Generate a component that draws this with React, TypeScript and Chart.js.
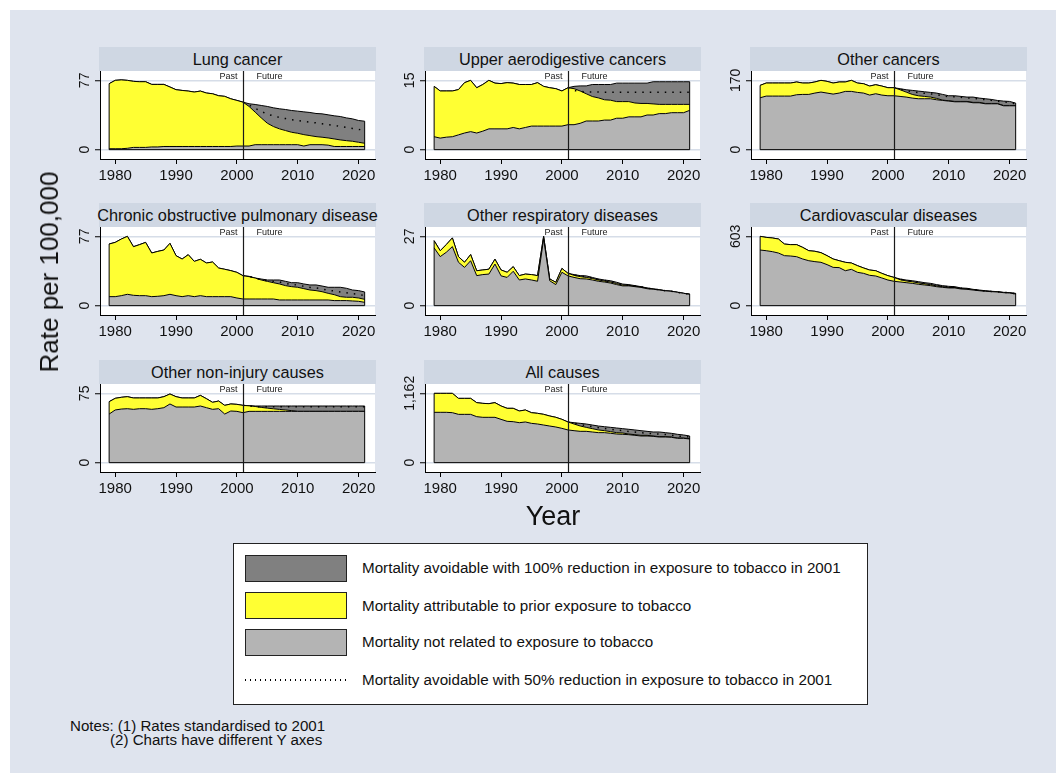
import React, { useEffect, useRef } from 'react';
import { Chart, registerables } from 'chart.js';

Chart.register(...registerables);

// ---------- data ----------
const years = [1979, 1980, 1981, 1982, 1983, 1984, 1985, 1986, 1987, 1988, 1989, 1990, 1991, 1992, 1993, 1994, 1995, 1996, 1997, 1998, 1999, 2000, 2001, 2002, 2003, 2004, 2005, 2006, 2007, 2008, 2009, 2010, 2011, 2012, 2013, 2014, 2015, 2016, 2017, 2018, 2019, 2020, 2021];
const futureYears = [2001, 2002, 2003, 2004, 2005, 2006, 2007, 2008, 2009, 2010, 2011, 2012, 2013, 2014, 2015, 2016, 2017, 2018, 2019, 2020, 2021];
const projectionStart = 2001;
const xTickYears = [1980, 1990, 2000, 2010, 2020];

// Lung cancer
const lungBase = [1.0, 1.0, 1.0, 1.5, 2.5, 2.5, 2.5, 3.0, 3.0, 3.5, 3.5, 3.5, 3.5, 3.5, 3.5, 3.5, 3.5, 3.5, 3.5, 3.5, 3.5, 4.0, 4.0, 4.0, 5.5, 5.5, 5.5, 5.5, 5.5, 5.5, 5.5, 5.5, 4.0, 5.5, 5.5, 5.5, 5.0, 3.5, 3.5, 3.5, 3.5, 3.5, 3.5];
const lungPrior = [73.3, 77.0, 77.5, 77.0, 75.9, 75.5, 75.5, 72.5, 72.5, 72.5, 69.6, 66.6, 65.8, 65.1, 64.0, 65.1, 62.9, 62.1, 59.9, 59.2, 56.5, 54.7, 52.8, 48.0, 41.7, 35.3, 29.4, 25.7, 23.1, 21.2, 19.3, 18.2, 16.7, 15.6, 14.5, 13.8, 13.0, 11.9, 10.8, 10.0, 9.3, 8.2, 7.1];
const lungProjected = [52.8, 51.0, 50.2, 49.1, 48.0, 46.5, 45.4, 44.6, 43.5, 42.8, 42.0, 41.3, 40.2, 39.8, 38.7, 37.6, 36.8, 35.3, 34.2, 32.4, 31.6];
const lungHalf = [52.8, 49.5, 46.0, 42.5, 39.5, 37.5, 35.8, 34.5, 33.3, 32.4, 31.5, 30.6, 29.8, 28.8, 27.8, 26.8, 25.8, 24.6, 23.6, 22.5, 21.6];

// Upper aerodigestive cancers
const uadBase = [2.8, 2.5, 2.7, 2.8, 3.2, 3.6, 3.9, 3.6, 4.0, 4.5, 4.5, 4.5, 4.5, 4.8, 4.5, 4.8, 5.1, 5.1, 5.1, 5.1, 5.1, 5.1, 5.4, 5.4, 5.7, 6.2, 6.2, 6.2, 6.4, 6.4, 6.8, 6.8, 7.1, 7.1, 7.1, 7.5, 7.5, 7.8, 7.8, 8.0, 8.0, 8.0, 8.5];
const uadPrior = [13.7, 12.7, 12.7, 12.7, 13.0, 14.5, 15.0, 13.4, 14.1, 15.0, 14.4, 14.3, 14.5, 14.4, 14.1, 14.1, 14.1, 14.5, 13.7, 13.4, 13.2, 12.7, 13.4, 13.2, 12.7, 12.1, 11.5, 11.2, 10.8, 10.7, 10.4, 10.4, 10.4, 10.1, 10.0, 10.0, 9.9, 9.8, 9.8, 9.8, 9.8, 9.8, 9.8];
const uadProjected = [13.4, 13.7, 13.8, 13.8, 14.1, 14.1, 14.1, 14.1, 14.4, 14.4, 14.4, 14.4, 14.4, 14.4, 14.7, 14.7, 14.7, 14.7, 14.7, 14.7, 14.7];
const uadHalf = [13.4, 12.8, 12.6, 12.5, 12.5, 12.5, 12.4, 12.4, 12.4, 12.4, 12.4, 12.4, 12.4, 12.4, 12.4, 12.4, 12.4, 12.4, 12.4, 12.4, 12.4];

// Other cancers
const ocBase = [127.3, 131.4, 131.4, 131.4, 131.4, 131.4, 134.7, 135.5, 135.5, 138.8, 141.3, 138.8, 136.3, 138.8, 142.9, 142.9, 140.4, 138.8, 133.9, 137.2, 133.9, 132.2, 132.2, 130.6, 129.0, 126.5, 124.9, 124.9, 124.9, 122.4, 120.7, 119.1, 117.4, 117.4, 117.4, 115.0, 115.0, 112.5, 112.5, 112.5, 107.6, 107.6, 107.6];
const ocPrior = [157.7, 163.4, 163.4, 163.4, 163.4, 163.4, 166.0, 163.4, 163.4, 166.0, 170.0, 167.5, 163.4, 166.0, 166.0, 170.0, 163.4, 161.8, 156.0, 159.3, 156.0, 152.0, 152.0, 147.0, 141.3, 135.5, 132.2, 130.6, 129.0, 125.7, 121.5, 120.0, 118.3, 118.3, 118.3, 116.0, 116.0, 113.3, 113.3, 113.3, 108.4, 108.4, 108.4];
const ocProjected = [152.0, 149.5, 147.0, 145.4, 143.7, 142.0, 140.4, 138.8, 135.5, 132.2, 132.2, 130.6, 129.0, 129.0, 126.5, 124.9, 123.2, 120.7, 119.1, 118.3, 114.2];
const ocHalf = [152.0, 148.5, 145.0, 142.5, 140.0, 138.3, 136.8, 135.0, 132.5, 130.0, 129.8, 128.3, 126.8, 126.5, 124.2, 122.6, 121.0, 118.8, 117.0, 116.0, 112.0];

// Chronic obstructive pulmonary disease
const copdBase = [10.0, 10.0, 11.1, 12.6, 11.5, 11.1, 11.1, 10.0, 10.4, 11.1, 12.6, 11.1, 10.0, 11.1, 10.0, 11.1, 10.0, 10.0, 10.0, 10.0, 10.0, 8.5, 7.4, 7.4, 7.4, 7.4, 7.4, 7.4, 6.3, 6.3, 6.3, 6.3, 6.3, 6.3, 6.3, 6.3, 6.3, 5.6, 5.6, 5.6, 5.2, 4.8, 3.7];
const copdPrior = [68.5, 70.3, 74.0, 77.0, 65.5, 67.8, 70.3, 58.5, 60.3, 61.8, 69.2, 55.5, 51.8, 56.6, 49.2, 51.5, 47.4, 48.5, 41.8, 40.4, 38.9, 37.0, 33.3, 32.2, 30.7, 28.5, 27.0, 25.5, 24.1, 22.2, 21.1, 20.4, 18.9, 17.4, 16.7, 15.5, 13.7, 12.2, 10.0, 9.3, 9.3, 8.5, 7.0];
const copdProjected = [33.3, 32.6, 30.7, 29.6, 28.5, 28.5, 28.5, 27.0, 25.5, 25.5, 24.1, 23.0, 23.0, 21.8, 20.4, 20.4, 20.4, 19.3, 17.4, 16.7, 15.2];
const copdHalf = [33.3, 32.4, 30.7, 29.0, 27.8, 27.0, 26.3, 24.6, 23.3, 23.0, 21.5, 20.2, 19.8, 18.6, 17.0, 16.3, 15.2, 14.3, 13.3, 12.6, 11.1];

// Other respiratory diseases
const respBase = [22.5, 19.1, 20.8, 23.0, 16.9, 14.9, 17.5, 11.7, 12.1, 12.3, 16.2, 11.6, 11.0, 13.4, 10.0, 10.4, 10.0, 9.5, 26.0, 9.7, 8.2, 13.0, 11.6, 11.0, 10.5, 10.4, 10.0, 9.5, 9.2, 8.8, 8.2, 7.7, 7.7, 7.4, 7.1, 6.6, 6.4, 6.1, 5.8, 5.6, 5.2, 4.8, 4.4];
const respPrior = [25.3, 21.4, 23.8, 26.4, 19.1, 16.9, 19.9, 13.6, 13.9, 14.2, 18.1, 13.9, 13.0, 15.2, 11.7, 12.3, 12.1, 11.7, 27.0, 10.4, 9.1, 14.5, 12.6, 11.8, 11.3, 11.0, 10.6, 10.0, 9.6, 9.2, 8.6, 8.0, 7.9, 7.6, 7.3, 6.8, 6.5, 6.2, 5.8, 5.6, 5.2, 4.8, 4.5];
const respProjected = [12.6, 12.1, 11.7, 11.6, 11.0, 10.4, 10.0, 9.7, 9.1, 8.4, 8.2, 7.8, 7.4, 6.9, 6.5, 6.2, 5.8, 5.6, 5.2, 4.8, 4.5];
const respHalf = [12.6, 11.9, 11.5, 11.3, 10.8, 10.2, 9.8, 9.4, 8.8, 8.2, 8.0, 7.7, 7.3, 6.8, 6.5, 6.2, 5.8, 5.6, 5.2, 4.8, 4.5];

// Cardiovascular diseases
const cvdBase = [484, 478, 470, 458, 435, 432, 426, 406, 391, 383, 377, 357, 333, 331, 304, 316, 290, 281, 264, 258, 241, 223, 212, 206, 200, 194, 186, 180, 174, 165, 159, 154, 154, 145, 142, 136, 130, 125, 122, 119, 113, 110, 101];
const cvdPrior = [603, 594, 589, 580, 536, 531, 531, 507, 478, 473, 461, 435, 406, 391, 377, 371, 348, 328, 310, 304, 281, 261, 246, 226, 215, 208, 198, 190, 182, 172, 165, 158, 158, 148, 145, 138, 132, 127, 123, 120, 114, 111, 103];
const cvdProjected = [246, 232, 223, 217, 209, 200, 194, 183, 174, 168, 165, 154, 151, 142, 136, 130, 125, 122, 116, 113, 107];
const cvdHalf = [246, 229, 219, 212, 203, 195, 188, 178, 170, 163, 161, 151, 148, 140, 134, 128, 124, 121, 115, 112, 105];

// Other non-injury causes
const oniBase = [52.6, 57.0, 58.0, 58.4, 57.7, 58.4, 58.4, 57.7, 58.4, 59.5, 63.5, 60.2, 60.2, 60.2, 60.2, 61.3, 59.5, 57.7, 58.4, 52.6, 55.9, 55.5, 54.1, 55.5, 55.5, 55.5, 55.5, 55.5, 55.5, 55.5, 55.5, 55.5, 55.5, 55.5, 55.5, 55.5, 55.5, 55.5, 55.5, 55.5, 55.5, 55.5, 55.5];
const oniPrior = [66.0, 69.6, 70.7, 71.4, 70.0, 70.0, 70.0, 70.0, 70.0, 71.4, 74.3, 71.4, 70.0, 70.0, 70.0, 72.8, 69.2, 65.3, 66.7, 62.0, 63.5, 63.1, 62.0, 61.5, 60.8, 59.8, 59.0, 58.3, 57.6, 57.0, 56.3, 55.5, 55.5, 55.5, 55.5, 55.5, 55.5, 55.5, 55.5, 55.5, 55.5, 55.5, 55.5];
const oniProjected = [62.0, 61.7, 61.3, 61.3, 61.3, 61.3, 61.3, 61.3, 61.3, 61.3, 61.3, 61.3, 61.3, 61.3, 61.3, 61.3, 61.3, 61.3, 61.3, 61.3, 61.3];
const oniHalf = [62.0, 61.2, 60.6, 60.6, 60.6, 60.6, 60.6, 60.6, 60.6, 60.6, 60.6, 60.6, 60.6, 60.6, 60.6, 60.6, 60.6, 60.6, 60.6, 60.6, 60.6];

// All causes
const allBase = [844, 844, 844, 838, 810, 810, 810, 771, 760, 760, 760, 726, 693, 687, 670, 682, 659, 648, 631, 614, 598, 575, 548, 536, 525, 525, 514, 503, 503, 492, 480, 475, 469, 458, 447, 447, 441, 430, 430, 425, 408, 408, 397];
const allPrior = [1162, 1162, 1162, 1162, 1078, 1078, 1078, 1006, 994, 989, 1006, 950, 911, 911, 866, 883, 838, 827, 810, 782, 760, 726, 682, 648, 615, 592, 570, 548, 536, 520, 503, 497, 480, 469, 458, 458, 447, 436, 436, 430, 413, 413, 402];
const allProjected = [682, 670, 659, 648, 631, 614, 603, 592, 581, 570, 559, 548, 536, 525, 514, 514, 503, 492, 475, 464, 447];
const allHalf = [682, 660, 640, 622, 603, 585, 572, 560, 546, 538, 524, 513, 501, 495, 484, 478, 472, 462, 446, 440, 426];

const panelTitles = ['Lung cancer', 'Upper aerodigestive cancers', 'Other cancers', 'Chronic obstructive pulmonary disease', 'Other respiratory diseases', 'Cardiovascular diseases', 'Other non-injury causes', 'All causes'];
const panelTickMax = [77, 15, 170, 77, 27, 603, 75, 1162];
const panelBase = [lungBase, uadBase, ocBase, copdBase, respBase, cvdBase, oniBase, allBase];
const panelPrior = [lungPrior, uadPrior, ocPrior, copdPrior, respPrior, cvdPrior, oniPrior, allPrior];
const panelProjected = [lungProjected, uadProjected, ocProjected, copdProjected, respProjected, cvdProjected, oniProjected, allProjected];
const panelHalf = [lungHalf, uadHalf, ocHalf, copdHalf, respHalf, cvdHalf, oniHalf, allHalf];

const legendLabels = [
  'Mortality avoidable with 100% reduction in exposure to tobacco in 2001',
  'Mortality attributable to prior exposure to tobacco',
  'Mortality not related to exposure to tobacco',
  'Mortality avoidable with 50% reduction in exposure to tobacco in 2001',
];

// ---------- style ----------
const FONT = '"Liberation Sans", Arial, Helvetica, sans-serif';
const BG = '#dfe4ee';
const STRIP = '#cfd7e3';
const GRID = '#d6dde8';
const C_BASE = '#b4b4b4';
const C_PRIOR = '#ffff33';
const C_AVOID = '#808080';
const TEXT = '#111111';

const COL_LEFT = [100, 425, 751];
const ROW_TOP = [47, 203, 360];
const STRIP_H = 24;
const PLOT_W = 275;
const PLOT_H = 88;
const AX_W = 40;
const PAD_T = 12;
const PAD_R = 22;
const AX_H = 32;
const CANVAS_W = AX_W + PLOT_W + PAD_R;
const CANVAS_H = PAD_T + PLOT_H + AX_H;

const fmt = (v: number) => Number(v).toLocaleString('en-US');

const panelPlugin = {
  id: 'panelDecor',
  beforeDraw(chart: any) {
    const { ctx, chartArea } = chart;
    ctx.save();
    ctx.fillStyle = '#ffffff';
    ctx.fillRect(chartArea.left, chartArea.top, chartArea.right - chartArea.left, chartArea.bottom - chartArea.top);
    ctx.restore();
  },
  afterDatasetsDraw(chart: any) {
    const { ctx, chartArea } = chart;
    const xs = chart.scales.x;
    const ys = chart.scales.y;
    const outer = chart.data.datasets[2].data;
    const first = outer[0];
    const last = outer[outer.length - 1];
    const y0 = ys.getPixelForValue(0);
    ctx.save();
    ctx.strokeStyle = '#000';
    ctx.lineWidth = 1;
    ctx.beginPath();
    ctx.moveTo(xs.getPixelForValue(first.x), ys.getPixelForValue(first.y));
    ctx.lineTo(xs.getPixelForValue(first.x), y0);
    ctx.lineTo(xs.getPixelForValue(last.x), y0);
    ctx.lineTo(xs.getPixelForValue(last.x), ys.getPixelForValue(last.y));
    ctx.stroke();
    // projection start line
    const px = Math.round(xs.getPixelForValue(projectionStart)) + 0.5;
    ctx.strokeStyle = '#1a1a1a';
    ctx.lineWidth = 1.2;
    ctx.beginPath();
    ctx.moveTo(px, chartArea.top);
    ctx.lineTo(px, chartArea.bottom);
    ctx.stroke();
    ctx.fillStyle = '#222';
    ctx.font = '9px ' + FONT;
    ctx.textBaseline = 'middle';
    ctx.textAlign = 'right';
    ctx.fillText('Past', px - 6, chartArea.top + 5.5);
    ctx.textAlign = 'left';
    ctx.fillText('Future', px + 13, chartArea.top + 5.5);
    ctx.restore();
  },
  afterDraw(chart: any) {
    const { ctx } = chart;
    const ys = chart.scales.y;
    ctx.save();
    ctx.fillStyle = TEXT;
    ctx.font = '14px ' + FONT;
    ctx.textAlign = 'center';
    ctx.textBaseline = 'alphabetic';
    for (const t of ys.ticks) {
      const py = ys.getPixelForValue(t.value);
      ctx.save();
      ctx.translate(ys.right - 11, py);
      ctx.rotate(-Math.PI / 2);
      ctx.fillText(fmt(t.value), 0, 0);
      ctx.restore();
    }
    ctx.restore();
  },
};

function buildConfig(i: number) {
  const base = panelBase[i];
  const prior = panelPrior[i];
  const projected = panelProjected[i];
  const half = panelHalf[i];
  const tickMax = panelTickMax[i];
  const baseData = years.map((yr, k) => ({ x: yr, y: base[k] }));
  const priorData = years.map((yr, k) => ({ x: yr, y: prior[k] }));
  const outerData = years.map((yr, k) => ({ x: yr, y: yr < projectionStart ? prior[k] : projected[futureYears.indexOf(yr)] }));
  const halfData = futureYears.map((yr, k) => ({ x: yr, y: half[k] }));
  return {
    type: 'line',
    data: {
      datasets: [
        { label: legendLabels[2], data: baseData, fill: 'origin', backgroundColor: C_BASE, borderColor: '#000', borderWidth: 1 },
        { label: legendLabels[1], data: priorData, fill: '-1', backgroundColor: C_PRIOR, borderColor: '#000', borderWidth: 1 },
        { label: legendLabels[0], data: outerData, fill: '-1', backgroundColor: C_AVOID, borderColor: '#000', borderWidth: 1 },
        { label: legendLabels[3], data: halfData, fill: false, borderColor: '#000', borderWidth: 1.5, borderDash: [1.5, 6], order: -1 },
      ],
    },
    options: {
      responsive: false,
      maintainAspectRatio: false,
      animation: false,
      events: [],
      layout: { padding: { left: 0, top: PAD_T, right: PAD_R, bottom: 0 } },
      elements: { point: { radius: 0, hoverRadius: 0 }, line: { tension: 0 } },
      plugins: { legend: { display: false }, tooltip: { enabled: false }, title: { display: false } },
      scales: {
        x: {
          type: 'linear',
          min: 1977.5,
          max: 2022.7,
          afterBuildTicks: (s: any) => { s.ticks = xTickYears.map((v) => ({ value: v })); },
          afterFit: (s: any) => { s.height = AX_H; },
          grid: { drawOnChartArea: false, drawTicks: true, tickLength: 5, tickColor: '#000', tickWidth: 1 },
          border: { display: true, color: '#000', width: 1 },
          ticks: { color: TEXT, font: { family: FONT, size: 15 }, padding: 3, maxRotation: 0, minRotation: 0, autoSkip: false, callback: (v: any) => String(v) },
        },
        y: {
          type: 'linear',
          min: -0.135 * tickMax,
          max: 1.135 * tickMax,
          afterBuildTicks: (s: any) => { s.ticks = [{ value: 0 }, { value: tickMax }]; },
          afterFit: (s: any) => { s.width = AX_W; },
          grid: { color: GRID, lineWidth: 1.5, drawTicks: true, tickLength: 5, tickColor: '#000', tickWidth: 1 },
          border: { display: true, color: '#000', width: 1 },
          ticks: { display: false },
        },
      },
    },
    plugins: [panelPlugin],
  };
}

function Panel({ index }: { index: number }) {
  const ref = useRef<HTMLCanvasElement | null>(null);
  const col = index % 3;
  const row = Math.floor(index / 3);
  const plotLeft = COL_LEFT[col];
  const plotTop = ROW_TOP[row] + STRIP_H;
  useEffect(() => {
    const chart = new Chart(ref.current as HTMLCanvasElement, buildConfig(index) as any);
    return () => chart.destroy();
  }, [index]);
  return (
    <>
      <div
        style={{
          position: 'absolute', left: plotLeft - 1, top: ROW_TOP[row], width: PLOT_W + 2, height: STRIP_H,
          background: STRIP, color: TEXT, fontFamily: FONT, fontSize: 16.3, lineHeight: STRIP_H + 'px',
          textAlign: 'center', whiteSpace: 'nowrap', display: 'flex', justifyContent: 'center',
        }}
      >
        <span>{panelTitles[index]}</span>
      </div>
      <canvas
        ref={ref}
        width={CANVAS_W}
        height={CANVAS_H}
        style={{ position: 'absolute', left: plotLeft - AX_W, top: plotTop - PAD_T, width: CANVAS_W, height: CANVAS_H }}
      />
    </>
  );
}

const swatchColors = [C_AVOID, C_PRIOR, C_BASE];
const swatchTops = [555, 592, 629];
const legendTextCenters = [568, 606, 642, 680];

export default function App() {
  return (
    <div style={{ position: 'absolute', left: 0, top: 0, width: 1056, height: 774, background: '#ffffff', overflow: 'hidden', fontFamily: FONT }}>
      <div style={{ position: 'absolute', left: 10, top: 10, width: 1046, height: 763, background: BG }} />
      {panelTitles.map((_, i) => <Panel key={i} index={i} />)}
      <div
        style={{
          position: 'absolute', left: 49, top: 272, transform: 'translate(-50%, -50%) rotate(-90deg)',
          fontSize: 26, color: TEXT, whiteSpace: 'nowrap', lineHeight: '30px',
        }}
      >
        Rate per 100,000
      </div>
      <div
        style={{
          position: 'absolute', left: 553, top: 516, transform: 'translate(-50%, -50%)',
          fontSize: 27, color: TEXT, whiteSpace: 'nowrap', lineHeight: '30px',
        }}
      >
        Year
      </div>
      <div style={{ position: 'absolute', left: 233, top: 543, width: 635, height: 162, background: '#ffffff', border: '1.5px solid #222', boxSizing: 'border-box' }} />
      {swatchColors.map((c, k) => (
        <div key={'sw' + k} style={{ position: 'absolute', left: 245, top: swatchTops[k], width: 102, height: 27, background: c, border: '1.5px solid #222', boxSizing: 'border-box' }} />
      ))}
      <div style={{ position: 'absolute', left: 245, top: 679, width: 102, height: 1.5, background: 'repeating-linear-gradient(to right, #000 0 1.5px, transparent 1.5px 5px)' }} />
      {legendLabels.map((t, k) => (
        <div key={'lt' + k} style={{ position: 'absolute', left: 362, top: legendTextCenters[k] - 10, height: 20, lineHeight: '20px', fontSize: 15.2, color: TEXT, whiteSpace: 'nowrap' }}>
          {t}
        </div>
      ))}
      <div style={{ position: 'absolute', left: 70, top: 719, fontSize: 15.1, lineHeight: '14px', color: TEXT, whiteSpace: 'nowrap' }}>
        Notes: (1) Rates standardised to 2001
      </div>
      <div style={{ position: 'absolute', left: 110, top: 733, fontSize: 15.1, lineHeight: '14px', color: TEXT, whiteSpace: 'nowrap' }}>
        (2) Charts have different Y axes
      </div>
    </div>
  );
}
